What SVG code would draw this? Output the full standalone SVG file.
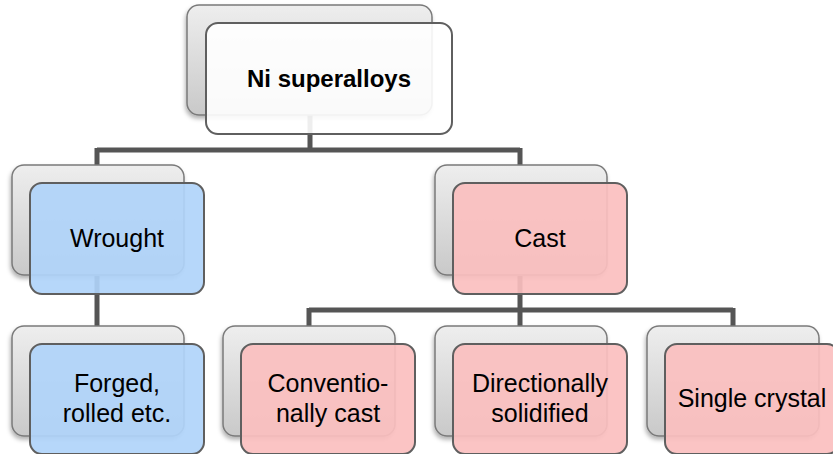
<svg xmlns="http://www.w3.org/2000/svg" width="833" height="454" viewBox="0 0 833 454">
<defs>
<linearGradient id="gback" x1="0" y1="0" x2="0" y2="1">
<stop offset="0" stop-color="#eeeeee"/>
<stop offset="1" stop-color="#c9c9c9"/>
</linearGradient>
<filter id="sh" x="-10%" y="-10%" width="120%" height="130%">
<feDropShadow dx="-1" dy="3" stdDeviation="2" flood-color="#000" flood-opacity="0.3"/>
</filter>
<style>
.back{fill:url(#gback);stroke:#7a7a7a;stroke-width:1.5;filter:url(#sh)}
.front{stroke:#5f5f5f;stroke-width:2}
.white{fill:#ffffff;fill-opacity:0.9}
.blue{fill:#b0d4fa;fill-opacity:0.92}
.pink{fill:#fbbfbf;fill-opacity:0.92}
.conn{fill:none;stroke:#555555;stroke-width:5}
text{font-family:"Liberation Sans",Arial,sans-serif;font-size:25px;fill:#000;text-anchor:middle}
.bold{font-weight:bold;font-size:24px}
</style>
</defs>
<rect width="833" height="454" fill="#ffffff"/>
<g id="connectors">
<path class="conn" d="M310,115 V150 M97,150 H520 M97,148 V165 M520,148 V165"/>
<path class="conn" d="M97,276 V326"/>
<path class="conn" d="M520,276 V310 M309,310 H733 M309,308 V326 M520,308 V326 M733,308 V326"/>
</g>
<g id="ni-superalloys">
<rect class="back" x="187" y="5" width="245" height="110" rx="12"/>
<rect class="front white" x="206" y="23" width="246" height="111" rx="12"/>
<text class="bold" x="329" y="87">Ni superalloys</text>
</g>
<g id="wrought">
<rect class="back" x="12" y="165" width="172" height="110" rx="12"/>
<rect class="front blue" x="30" y="183" width="174" height="111" rx="12"/>
<text x="117" y="247">Wrought</text>
</g>
<g id="forged">
<rect class="back" x="12" y="326" width="172" height="110" rx="12"/>
<rect class="front blue" x="30" y="344" width="174" height="110" rx="12"/>
<text x="117" y="392">Forged,</text>
<text x="117" y="422">rolled etc.</text>
</g>
<g id="cast">
<rect class="back" x="435" y="165" width="172" height="110" rx="12"/>
<rect class="front pink" x="453" y="183" width="174" height="111" rx="12"/>
<text x="540" y="247">Cast</text>
</g>
<g id="conventionally-cast">
<rect class="back" x="223" y="326" width="172" height="110" rx="12"/>
<rect class="front pink" x="241" y="344" width="174" height="110" rx="12"/>
<text x="328" y="392">Conventio-</text>
<text x="328" y="422">nally cast</text>
</g>
<g id="directionally-solidified">
<rect class="back" x="435" y="326" width="172" height="110" rx="12"/>
<rect class="front pink" x="453" y="344" width="174" height="110" rx="12"/>
<text x="540" y="392">Directionally</text>
<text x="540" y="422">solidified</text>
</g>
<g id="single-crystal">
<rect class="back" x="647" y="326" width="172" height="110" rx="12"/>
<rect class="front pink" x="665" y="344" width="174" height="110" rx="12"/>
<text x="752" y="407">Single crystal</text>
</g>
</svg>
